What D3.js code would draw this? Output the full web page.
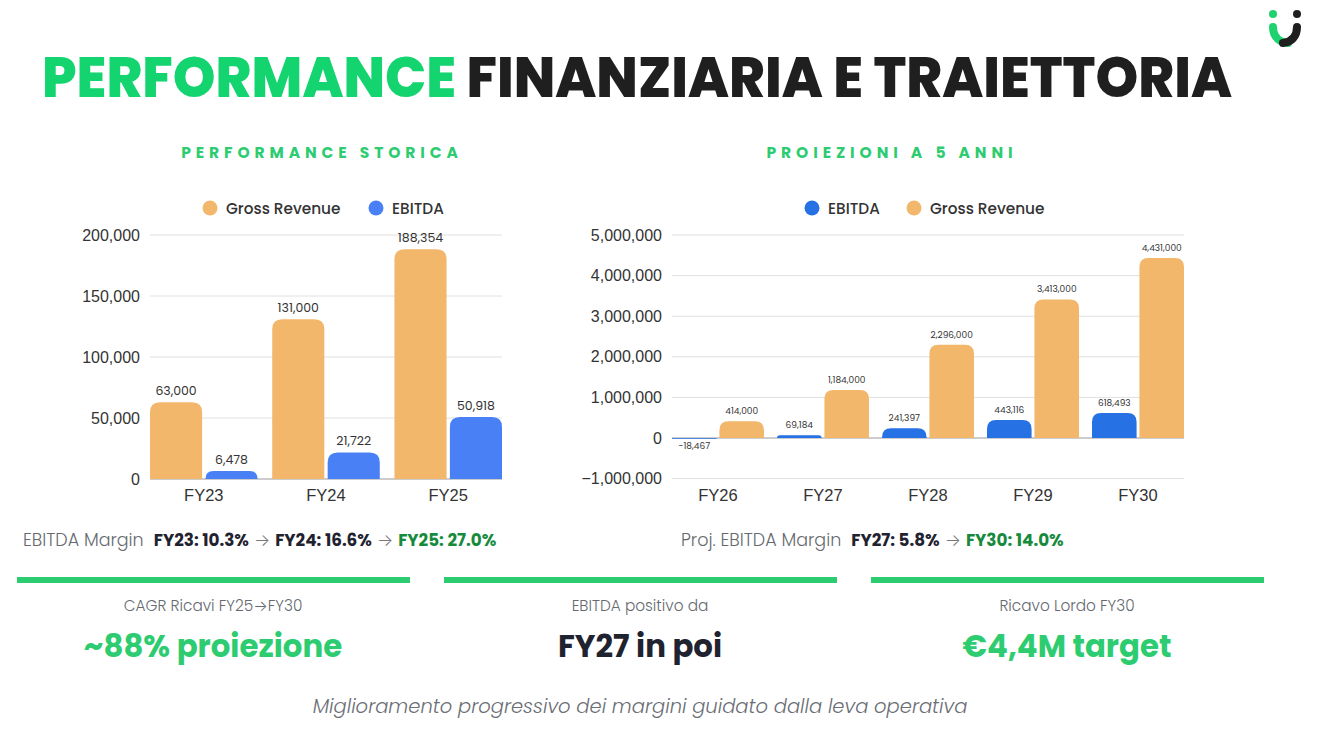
<!DOCTYPE html>
<html>
<head>
<meta charset="utf-8">
<script src="https://cdn.jsdelivr.net/npm/d3@7"></script>
<style>
  body { margin: 0; background: #fff; }
  svg { display: block; font-family: Poppins, Inter, "Open Sans", sans-serif; }
</style>
</head>
<body>
<svg id="slide"></svg>
<script>
// historical
const histYears = ["FY23", "FY24", "FY25"];
const histRevenue = [63000, 131000, 188354];
const histEbitda = [6478, 21722, 50918];
const histTicks = [0, 50000, 100000, 150000, 200000];

// projections
const projYears = ["FY26", "FY27", "FY28", "FY29", "FY30"];
const projEbitda = [-18467, 69184, 241397, 443116, 618493];
const projRevenue = [414000, 1184000, 2296000, 3413000, 4431000];
const projTicks = [-1000000, 0, 1000000, 2000000, 3000000, 4000000, 5000000];

const kpiLabels = ["CAGR Ricavi FY25\u2192FY30", "EBITDA positivo da", "Ricavo Lordo FY30"];
const kpiValues = ["~88% proiezione", "FY27 in poi", "\u20ac4,4M target"];

const W = 1319, H = 735;
const green2 = "#2ecc71";
const dark = "#1f1f1f";
const orange = "#f2b76b";

const svg = d3.select("#slide").attr("width", W).attr("height", H);
const fmt = d3.format(",");

// title
const title = svg.append("text")
    .attr("x", 42).attr("y", 97)
    .attr("font-size", 56).attr("font-weight", 800)
    .attr("textLength", 1190).attr("lengthAdjust", "spacingAndGlyphs");
title.append("tspan").attr("fill", "#14d470").text("PERFORMANCE ");
title.append("tspan").attr("fill", dark).text("FINANZIARIA E TRAIETTORIA");

// logo
const logo = svg.append("g").attr("transform", "translate(1285,28)");
logo.append("circle").attr("cx", -12).attr("cy", -14).attr("r", 4).attr("fill", "#1ed36f");
logo.append("circle").attr("cx", 12).attr("cy", -14).attr("r", 4).attr("fill", "#1f1f1f");
logo.append("path").attr("d", "M-12,-1 C-12,10 -4,15 3,15")
    .attr("fill", "none").attr("stroke", "#1ed36f").attr("stroke-width", 8).attr("stroke-linecap", "round");
logo.append("path").attr("d", "M12,-1 C12,9 6,14 -2,15")
    .attr("fill", "none").attr("stroke", "#1f1f1f").attr("stroke-width", 8).attr("stroke-linecap", "round");

function topRounded(x, y, w, h, r) {
    r = Math.min(r, h, w / 2);
    return `M${x},${y + h}V${y + r}Q${x},${y} ${x + r},${y}H${x + w - r}Q${x + w},${y} ${x + w},${y + r}V${y + h}Z`;
}

function drawChart(opt) {
    const g = svg.append("g");
    g.append("text").attr("x", opt.titleX).attr("y", 158)
        .attr("text-anchor", "middle").attr("font-size", 15.5).attr("font-weight", 700)
        .attr("letter-spacing", 4.9).attr("fill", green2).text(opt.title);

    const y = d3.scaleLinear().domain(opt.domain).range(opt.yRange);
    const x = d3.scaleBand().domain(opt.cats).range(opt.xRange).paddingInner(opt.pad).paddingOuter(0);
    const sub = d3.scaleBand().domain(opt.series.map(s => s.name)).range([0, x.bandwidth()]).paddingInner(0.06);

    // grid
    g.append("g").selectAll("line").data(opt.ticks).join("line")
        .attr("x1", opt.xRange[0]).attr("x2", opt.xRange[1])
        .attr("y1", d => y(d)).attr("y2", d => y(d))
        .attr("stroke", d => d === 0 ? "#9a9a9a" : "#e0e0e0").attr("stroke-width", 1);

    // y axis
    const ay = g.append("g").attr("transform", `translate(${opt.xRange[0] - 10},0)`)
        .call(d3.axisLeft(y).tickValues(opt.ticks).tickFormat(fmt).tickSize(0).tickPadding(0));
    ay.select(".domain").remove();
    ay.selectAll("text").attr("font-size", opt.tickSize).attr("fill", "#333").attr("font-family", "inherit");

    // x axis
    const ax = g.append("g").attr("transform", `translate(0,${opt.xAxisY})`)
        .call(d3.axisBottom(x).tickSize(0).tickPadding(0));
    ax.select(".domain").remove();
    ax.selectAll("text").attr("font-size", 16.5).attr("font-weight", 500).attr("fill", "#333")
        .attr("font-family", "inherit").attr("dy", "0.71em");

    // bars
    opt.series.forEach(s => {
        const rows = opt.cats.map((c, i) => ({ c, v: s.values[i] }));
        const bg = g.append("g");
        bg.selectAll("path").data(rows).join("path")
            .attr("fill", s.color)
            .attr("d", d => {
                const bx = x(d.c) + sub(s.name), bw = sub.bandwidth();
                if (d.v >= 0) return topRounded(bx, y(d.v), bw, y(0) - y(d.v), opt.radius);
                return `M${bx},${y(0)}H${bx + bw}V${y(d.v)}H${bx}Z`;
            });
        bg.selectAll("text").data(rows).join("text")
            .attr("x", d => x(d.c) + sub(s.name) + sub.bandwidth() / 2)
            .attr("y", d => d.v >= 0 ? y(d.v) - 7 : y(0) + 11)
            .attr("text-anchor", "middle").attr("font-size", opt.labelSize).attr("fill", "#333")
            .text(d => fmt(d.v));
    });

    // legend
    const lg = g.append("g").attr("transform", `translate(0,208)`);
    opt.legend.forEach(l => {
        lg.append("circle").attr("cx", l.x).attr("cy", 0).attr("r", 7.5).attr("fill", l.color);
        lg.append("text").attr("x", l.x + 16).attr("y", 5.5).attr("font-size", 15.3)
            .attr("fill", "#333").attr("font-weight", 500).text(l.name);
    });
}

drawChart({
    title: "PERFORMANCE STORICA", titleX: 322,
    cats: histYears, domain: [0, 200000], yRange: [479, 235], xRange: [150, 502], pad: 0.12,
    ticks: histTicks, xAxisY: 489, radius: 10, labelSize: 12.5, tickSize: 16,
    series: [
        { name: "Gross Revenue", values: histRevenue, color: orange },
        { name: "EBITDA", values: histEbitda, color: "#4a80f6" }
    ],
    legend: [
        { name: "Gross Revenue", color: orange, x: 210 },
        { name: "EBITDA", color: "#4a80f6", x: 376 }
    ]
});

drawChart({
    title: "PROIEZIONI A 5 ANNI", titleX: 892,
    cats: projYears, domain: [-1000000, 5000000], yRange: [478.6, 235], xRange: [672, 1184], pad: 0.124,
    ticks: projTicks, xAxisY: 489, radius: 9, labelSize: 9, tickSize: 16,
    series: [
        { name: "EBITDA", values: projEbitda, color: "#2672e4" },
        { name: "Gross Revenue", values: projRevenue, color: orange }
    ],
    legend: [
        { name: "EBITDA", color: "#2672e4", x: 812 },
        { name: "Gross Revenue", color: orange, x: 914 }
    ]
});

// margin lines
function marginLine(x, parts) {
    const t = svg.append("text").attr("x", x).attr("y", 546);
    parts.forEach(p => {
        t.append("tspan").attr("fill", p.c).attr("font-weight", p.w)
            .attr("font-size", p.s).attr("dx", p.dx || 0).text(p.t);
    });
}
const arrow = { t: "\u2192", c: "#777", w: 300, s: 17, dx: 5 };
marginLine(23, [
    { t: "EBITDA Margin", c: "#666a70", w: 300, s: 17.5 },
    { t: "FY23: 10.3%", c: "#1f2330", w: 700, s: 16.8, dx: 10 },
    arrow,
    { t: "FY24: 16.6%", c: "#1f2330", w: 700, s: 16.8, dx: 5 },
    arrow,
    { t: "FY25: 27.0%", c: "#178a3e", w: 700, s: 16.8, dx: 5 }
]);
marginLine(681, [
    { t: "Proj. EBITDA Margin", c: "#666a70", w: 300, s: 17.5 },
    { t: "FY27: 5.8%", c: "#1f2330", w: 700, s: 16.8, dx: 10 },
    arrow,
    { t: "FY30: 14.0%", c: "#178a3e", w: 700, s: 16.8, dx: 5 }
]);

// KPI blocks
const kpi = svg.append("g").selectAll("g").data(d3.range(3)).join("g")
    .attr("transform", i => `translate(${17 + i * 427},0)`);
kpi.append("rect").attr("x", 0).attr("y", 577).attr("width", 393).attr("height", 6).attr("fill", green2);
kpi.append("text").attr("x", 196).attr("y", 611).attr("text-anchor", "middle")
    .attr("font-size", 15.3).attr("font-weight", 300).attr("fill", "#666a70")
    .text(i => kpiLabels[i]);
kpi.append("text").attr("x", 196).attr("y", 657).attr("text-anchor", "middle")
    .attr("font-size", 30.8).attr("font-weight", 700)
    .attr("fill", i => i === 1 ? "#1f2330" : green2)
    .text(i => kpiValues[i]);

// footer
svg.append("text").attr("x", 640).attr("y", 713).attr("text-anchor", "middle")
    .attr("font-size", 19.5).attr("font-style", "italic").attr("font-weight", 300).attr("fill", "#6a6e75")
    .text("Miglioramento progressivo dei margini guidato dalla leva operativa");
</script>
</body>
</html>
